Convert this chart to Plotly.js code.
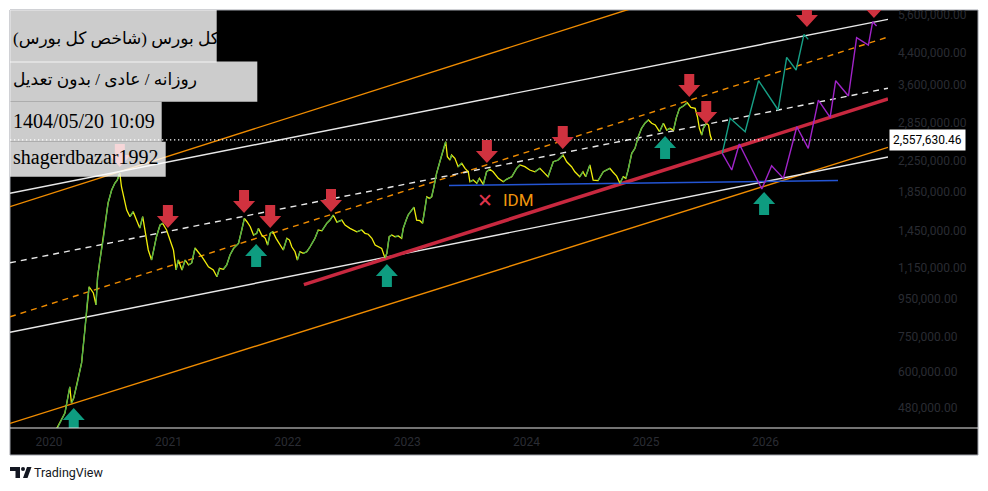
<!DOCTYPE html>
<html><head><meta charset="utf-8">
<script src="https://cdn.plot.ly/plotly-3.0.1.min.js"></script>
<style>
html,body{margin:0;padding:0;background:#fff;} #chart{width:988px;height:491px;}
#chart .xtick text, #chart .ytick text { fill: #2a2c33 !important; }
#chart .annotation-text { direction: ltr !important; unicode-bidi: embed !important; }
</style>
</head><body><div id="chart"></div>
<script>
// ---------- DATA ----------
const priceDates = [
'2020-01-04','2020-01-29','2020-02-19','2020-03-05','2020-03-10','2020-03-17','2020-03-28','2020-04-10','2020-04-20','2020-04-27',
'2020-05-03','2020-05-16','2020-05-24','2020-05-29','2020-06-05','2020-06-15','2020-06-23','2020-06-30','2020-07-11','2020-07-21',
'2020-07-28','2020-08-05','2020-08-10','2020-08-17','2020-08-26','2020-09-05','2020-09-15','2020-09-25','2020-10-05','2020-10-14',
'2020-10-23','2020-10-31','2020-11-10','2020-11-17','2020-11-25','2020-12-06','2020-12-14','2020-12-26',
'2021-01-06','2021-01-16','2021-01-24','2021-01-31','2021-02-11','2021-02-21','2021-03-03','2021-03-13','2021-03-23','2021-04-02',
'2021-04-13','2021-04-23','2021-05-03','2021-05-18','2021-05-29','2021-06-06','2021-06-18','2021-06-28','2021-07-08','2021-07-19',
'2021-08-03','2021-08-13','2021-08-21','2021-08-29','2021-09-08','2021-09-18','2021-09-28','2021-10-03','2021-10-13','2021-10-24',
'2021-10-31','2021-11-08','2021-11-16','2021-11-26','2021-12-08','2021-12-18','2021-12-29',
'2022-01-06','2022-01-13','2022-01-23','2022-01-30','2022-02-07','2022-02-17','2022-02-28','2022-03-10','2022-03-25','2022-04-04',
'2022-04-15','2022-04-30','2022-05-10','2022-05-20','2022-05-31','2022-06-15','2022-06-25','2022-07-10','2022-07-20','2022-07-31',
'2022-08-15','2022-08-25','2022-09-04','2022-09-15','2022-09-25','2022-10-05','2022-10-15','2022-10-25','2022-10-31','2022-11-07',
'2022-11-15','2022-11-25','2022-12-05','2022-12-15','2022-12-20','2022-12-29',
'2023-01-04','2023-01-15','2023-01-22','2023-01-30','2023-02-09','2023-02-17','2023-02-24','2023-03-02','2023-03-10','2023-03-17',
'2023-03-24','2023-04-01','2023-04-11','2023-04-21','2023-04-29','2023-05-04','2023-05-12','2023-05-17','2023-05-27','2023-06-06',
'2023-06-17','2023-06-27','2023-07-07','2023-07-12','2023-07-22','2023-08-02','2023-08-10','2023-08-22','2023-09-01','2023-09-11',
'2023-09-21','2023-10-07','2023-10-22','2023-11-01','2023-11-17','2023-12-02','2023-12-12','2023-12-27',
'2024-01-11','2024-01-27','2024-02-11','2024-02-26','2024-03-07','2024-03-23','2024-04-07','2024-04-22','2024-05-03','2024-05-18',
'2024-05-28','2024-06-12','2024-06-22','2024-06-30','2024-07-13','2024-07-23','2024-08-07','2024-08-23','2024-09-12','2024-09-22',
'2024-10-03','2024-10-13','2024-10-23','2024-10-31','2024-11-07','2024-11-18','2024-11-28','2024-12-08','2024-12-18','2024-12-28',
'2025-01-08','2025-01-18','2025-01-29','2025-02-11','2025-02-23','2025-03-05','2025-03-15','2025-03-26','2025-04-03','2025-04-13',
'2025-04-25','2025-05-07','2025-05-18','2025-05-31','2025-06-07','2025-06-13','2025-06-20','2025-06-25','2025-07-04','2025-07-11',
'2025-07-16','2025-07-21'];
const priceValues = [
390000,427000,465000,548000,495000,511000,561000,636000,781000,924000,
1023000,984000,913000,1089000,1209000,1369000,1551000,1725000,1871000,1954000,
1991000,2076000,1910000,1794000,1651000,1584000,1634000,1551000,1476000,1584000,
1398000,1287000,1209000,1287000,1398000,1504000,1520000,1458000,
1369000,1287000,1136000,1209000,1136000,1209000,1172000,1187000,1303000,1273000,
1234000,1196000,1159000,1136000,1089000,1148000,1141000,1172000,1247000,1300000,
1341000,1458000,1568000,1535000,1488000,1413000,1428000,1473000,1413000,1384000,
1327000,1428000,1442000,1384000,1327000,1287000,1384000,
1369000,1313000,1273000,1209000,1273000,1260000,1273000,1313000,1384000,1458000,
1450000,1520000,1551000,1601000,1532000,1551000,1504000,1473000,1458000,1442000,
1458000,1428000,1420000,1384000,1327000,1313000,1300000,1225000,1260000,1398000,
1413000,1398000,1404000,1384000,1473000,1551000,
1601000,1651000,1680000,1551000,1545000,1520000,1651000,1794000,1776000,1794000,
1910000,2076000,2232000,2401000,2528000,2303000,2256000,2328000,2280000,2164000,
2210000,2142000,2097000,1970000,1991000,1951000,2012000,1939000,2097000,2129000,
2097000,2012000,1970000,2000000,2033000,2142000,2187000,2164000,
2120000,2097000,2142000,2076000,2033000,2232000,2256000,2328000,2232000,2164000,
2097000,2033000,2097000,2033000,2187000,1991000,1985000,2097000,2142000,2090000,
2040000,1951000,2033000,2012000,2120000,2352000,2427000,2609000,2750000,2837000,
2896000,2837000,2807000,2692000,2837000,2720000,2750000,2720000,2927000,3115000,
3160000,3226000,3134000,3115000,2956000,2750000,2637000,2750000,2837000,2807000,
2637000,2557630.46];
const lastPrice = 2557630.46;

const lineSpan = ['2019-09-04','2027-01-11'];
const orangeUpper = [1686000, 9679000];
const orangeMid   = [848000, 4861000];
const orangeLower = [436000, 2442000];
const whiteUpper  = [1833000, 5428000];
const whiteMid    = [1188000, 3532000];
const whiteLower  = [770000, 2299000];
const redDates  = ['2022-02-19','2027-01-11'];
const redValues = [1037000, 3303000];
const blueDates  = ['2023-05-09','2026-08-11'];
const blueValues = [1924000, 1985000];

const tealDates  = ['2025-08-22','2025-09-15','2025-10-31','2025-12-11','2026-02-09','2026-03-07','2026-04-05','2026-04-29','2026-05-12'];
const tealValues = [2352000,2927000,2692000,3701000,3083000,4281000,3957000,4943000,4791000];
const purpleDates  = ['2025-08-22','2025-09-20','2025-10-13','2025-12-21','2026-01-20','2026-02-25','2026-04-07','2026-05-12','2026-06-12','2026-07-18','2026-08-04','2026-09-12','2026-10-07','2026-11-12','2026-11-25','2026-12-07'];
const purpleValues = [2352000,2120000,2493000,1883000,2177000,2012000,2777000,2427000,3281000,2945000,3701000,3364000,4839000,4623000,5347000,5205000];

const downArrowDates  = ['2020-08-05','2020-12-30','2021-08-20','2021-11-08','2022-05-13','2023-09-02','2024-04-21','2025-05-13','2025-07-04','2026-05-08','2026-11-29'];
const downArrowValues = [2160000,1476000,1621000,1476000,1631000,2214000,2416000,3343000,2824000,5173000,5472000];
const upArrowDates  = ['2020-03-17','2021-09-26','2022-10-31','2025-02-28','2025-12-28'];
const upArrowValues = [480000,1336000,1179000,2620000,1848000];

const idmDate = '2023-10-14', idmCrossDate = '2023-08-27', idmValue = 1758000;

const yTickVals = [480000,600000,750000,950000,1150000,1450000,1850000,2250000,2850000,3600000,4400000,5600000];
const yTickText = ['480,000.00','600,000.00','750,000.00','950,000.00','1,150,000.00','1,450,000.00','1,850,000.00','2,250,000.00','2,850,000.00','3,600,000.00','4,400,000.00','5,600,000.00'];
const xTickVals = ['2020-01-01','2021-01-01','2022-01-01','2023-01-01','2024-01-01','2025-01-01','2026-01-01'];
const xTickText = ['2020','2021','2022','2023','2024','2025','2026'];

const boxTexts = ['\u202Aکل بورس (شاخص کل بورس)\u202C','\u202Aروزانه / عادی / بدون تعدیل\u202C','1404/05/20 10:09','shagerdbazar1992'];

// ---------- STYLE / LAYOUT HELPERS ----------
const L = 10, T = 10, W = 878, H = 418;
const px = x => (x - L) / W;
const py = y => (T + H - y) / H;
const ORANGE = '#f08c00', WHITE = '#e8e8e8', RED = '#d0323f', TEAL = '#0e9c80';

function seg(xs, ys, color, width, dash) {
  return {type:'scatter', mode:'lines', x:xs, y:ys, line:{color:color, width:width, dash:dash||'solid'}, hoverinfo:'skip', showlegend:false};
}

const traces = [
  seg(lineSpan, orangeUpper, ORANGE, 1.4),
  seg(lineSpan, orangeLower, ORANGE, 1.4),
  seg(lineSpan, orangeMid, ORANGE, 1.4, '6px,5px'),
  seg(lineSpan, whiteUpper, WHITE, 1.4),
  seg(lineSpan, whiteLower, WHITE, 1.4),
  seg(lineSpan, whiteMid, WHITE, 1.4, '6px,5px'),
  seg(redDates, redValues, '#c8283f', 3.5),
  seg(blueDates, blueValues, '#2455d4', 1.6),
  seg(lineSpan, [lastPrice, lastPrice], '#ffffff', 1.3, '1.3px,2.7px'),
  seg(priceDates, priceValues, '#f2ee0a', 1.3)
];
// green overlay on rising legs
const gx = [], gy = [];
for (let i = 0; i < priceValues.length - 1; i++) {
  if (priceValues[i+1] > priceValues[i]) {
    gx.push(priceDates[i], priceDates[i+1], null);
    gy.push(priceValues[i], priceValues[i+1], null);
  }
}
traces.push(Object.assign(seg(gx, gy, '#4caf50', 1.3), {connectgaps:false}));
traces.push(seg(tealDates, tealValues, '#17a086', 1.4));
traces.push(seg(purpleDates, purpleValues, '#a024c8', 1.4));

const downPath = 'M0,0 L11,12 L5,12 L5,23 L-5,23 L-5,12 L-11,12 Z';
const upPath   = 'M0,0 L11,-12 L5,-12 L5,-23 L-5,-23 L-5,-12 L-11,-12 Z';

const shapes = [
  {type:'rect', xref:'paper', yref:'paper', x0:0, x1:px(978), y0:py(455), y1:1, fillcolor:'#000', line:{color:'#a0a3ab', width:1}, layer:'below'}
];
downArrowDates.forEach((d, i) => shapes.push({type:'path', xref:'x', yref:'y', xsizemode:'pixel', ysizemode:'pixel', xanchor:d, yanchor:downArrowValues[i], path:downPath, fillcolor:RED, line:{width:0}, layer:'above'}));
upArrowDates.forEach((d, i) => shapes.push({type:'path', xref:'x', yref:'y', xsizemode:'pixel', ysizemode:'pixel', xanchor:d, yanchor:upArrowValues[i], path:upPath, fillcolor:TEAL, line:{width:0}, layer:'above'}));
shapes.push({type:'line', xref:'paper', yref:'paper', x0:0, x1:px(978), y0:0, y1:0, line:{color:'#e6e6e6', width:1}, layer:'above'});
// text boxes (semi-transparent white)
const boxes = [[10,216.7,10,62.5],[10,257.3,61.5,101.7],[10,161.7,101.7,141.7],[10,165.7,141.7,176.7]];
boxes.forEach(b => shapes.push({type:'rect', xref:'paper', yref:'paper', x0:px(b[0]), x1:px(b[1]), y0:py(b[3]), y1:py(b[2]), fillcolor:'rgba(255,255,255,0.8)', line:{width:0}, layer:'above'}));
// TradingView logo
shapes.push({type:'path', xref:'paper', yref:'paper', path:`M${px(10)},${py(467)} L${px(20)},${py(467)} L${px(20)},${py(478)} L${px(15.5)},${py(478)} L${px(15.5)},${py(471)} L${px(10)},${py(471)} Z`, fillcolor:'#131722', line:{width:0}});
shapes.push({type:'circle', xref:'paper', yref:'paper', x0:px(21), x1:px(25), y0:py(471), y1:py(467), fillcolor:'#131722', line:{width:0}});
shapes.push({type:'path', xref:'paper', yref:'paper', path:`M${px(27)},${py(467)} L${px(31.5)},${py(467)} L${px(27.5)},${py(478)} L${px(23)},${py(478)} Z`, fillcolor:'#131722', line:{width:0}});

const boxTextY = [39, 79, 121, 158];
const annotations = boxTexts.map((t, i) => ({
  xref:'paper', yref:'paper', x:px(11), y:py(boxTextY[i]), xanchor:'left', yanchor:'middle', showarrow:false, text:t,
  font:{family: i < 2 ? 'Liberation Serif, DejaVu Sans' : 'Liberation Serif, serif', size: i < 2 ? 17 : 20, color:'#000'}
}));
annotations.push({xref:'paper', yref:'y', x:px(889), y:Math.log10(lastPrice), xanchor:'left', yanchor:'middle', showarrow:false,
  text:'2,557,630.46', bgcolor:'#ffffff', borderpad:3, font:{family:'Roboto', size:12, color:'#000'}});
annotations.push({xref:'x', yref:'y', x:idmCrossDate, y:Math.log10(idmValue), xanchor:'center', yanchor:'middle', showarrow:false,
  text:'✕', font:{family:'DejaVu Sans', size:19, color:'#e0354c'}});
annotations.push({xref:'x', yref:'y', x:idmDate, y:Math.log10(idmValue), xanchor:'left', yanchor:'middle', showarrow:false,
  text:'IDM', font:{family:'Roboto', size:17, color:'#f0960e'}});
annotations.push({xref:'paper', yref:'paper', x:px(32), y:py(472.5), xanchor:'left', yanchor:'middle', showarrow:false,
  text:'TradingView', font:{family:'Roboto', size:12.5, color:'#131722'}});

const dim = '#2a2c33';
const layout = {
  width:988, height:491, autosize:false,
  margin:{l:L, r:988-L-W, t:T, b:491-T-H, pad:0},
  paper_bgcolor:'#ffffff', plot_bgcolor:'#000000',
  showlegend:false, hovermode:false,
  xaxis:{type:'date', range:lineSpan, tickvals:xTickVals, ticktext:xTickText, showgrid:false, zeroline:false, showline:false,
    color:dim, ticks:'', tickfont:{family:'Roboto', size:12, color:dim}, ticklabelstandoff:5},
  yaxis:{type:'log', range:[5.62704, 6.76], side:'right', tickvals:yTickVals, ticktext:yTickText, showgrid:false, zeroline:false,
    color:dim, showline:false, ticks:'', tickfont:{family:'Roboto', size:12, color:dim}, ticklabelstandoff:9},
  shapes:shapes, annotations:annotations
};
Plotly.newPlot('chart', traces, layout, {staticPlot:true, displayModeBar:false});
</script></body></html>
